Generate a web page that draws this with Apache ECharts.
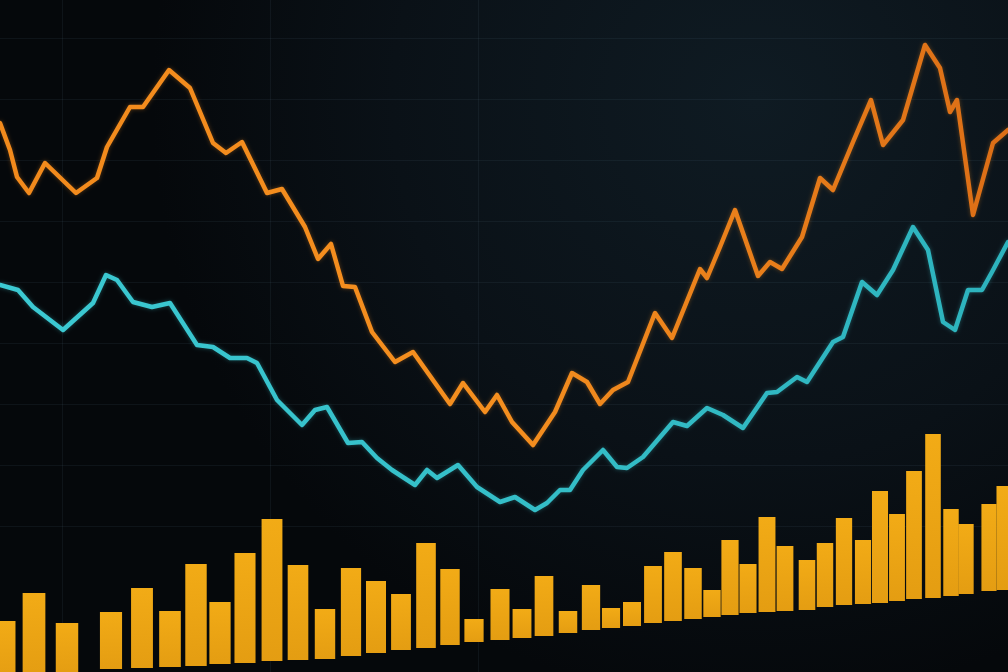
<!DOCTYPE html>
<html>
<head>
<meta charset="utf-8">
<script src="https://cdn.jsdelivr.net/npm/echarts@6/dist/echarts.min.js"></script>
<style>
html,body{margin:0;padding:0;background:#070b0f;}
#chart{width:1008px;height:672px;}
</style>
</head>
<body>
<div id="chart"></div>
<script>
// Orange series (x position, value)
const orangeX = [0,10,17,29,45,76,97,107,130,143,169,190,213,226,242,267,282,305,318,331,343,355,372,395,413,450,463,485,497,512,533,555,572,587,600,613,628,655,672,700,707,720,735,758,770,782,802,820,833,853,871,883,903,925,940,950,957,973,993,1008];
const orangeY = [549,522,495,479,509,479,494,525,565,565,602,584,529,519,530,479,483,445,413,428,386,385,340,310,320,268,289,260,277,250,227,260,299,290,268,282,290,359,334,403,394,425,462,396,410,403,435,494,482,530,572,527,552,627,604,560,572,457,529,542];

// Cyan series
const cyanX = [0,18,33,63,93,106,117,133,152,170,197,213,230,247,257,277,302,315,327,348,362,377,392,415,427,437,458,477,500,515,535,547,560,570,583,603,617,627,643,655,673,687,707,723,743,767,777,797,807,833,843,862,877,893,913,928,943,955,968,982,992,1008];
const cyanY = [387,382,365,342,369,397,392,370,365,369,327,325,314,314,309,272,247,262,265,229,230,214,202,187,202,194,207,185,170,175,162,169,182,182,202,222,205,204,215,229,250,246,264,257,244,279,280,295,290,330,335,390,377,402,445,422,350,342,382,382,400,430];

// Volume bars: position, base value, top value
const barX    = [4,34,67,111,142,170,196,220,245,272,298,325,351,376,401,426,450,474,500,522,544,568,591,611,632,653,673,693,712,730,748,767,785,807,825,844,863,880,897,914,933,951,966,989,1004];
const barBase = [-8,-4,-2,3,4,5,6,8,9,11,12,13,16,19,22,24,27,30,32,34,36,39,42,44,46,49,51,53,55,57,59,60,61,62,65,67,68,69,71,73,74,76,78,81,82];
const barTop  = [51,79,49,60,84,61,108,70,119,153,107,63,104,91,78,129,103,53,83,63,96,61,87,64,70,106,120,104,82,132,108,155,126,112,129,154,132,181,158,201,238,163,148,168,186];

const chart = echarts.init(document.getElementById('chart'), null, {renderer:'canvas'});

const gridLine = {show:true, lineStyle:{color:'rgba(120,150,170,0.085)', width:1}};

const option = {
  animation:false,
  backgroundColor:{
    type:'radial', x:0.75, y:0.15, r:0.9,
    colorStops:[{offset:0,color:'#0f1b23'},{offset:0.6,color:'#0a1117'},{offset:1,color:'#05080b'}]
  },
  grid:[
    {left:0,right:0,top:0,bottom:0},
    {left:0,right:0,top:38,bottom:146},
    {left:62,right:530,top:0,bottom:0}
  ],
  xAxis:[
    {gridIndex:0,type:'value',min:0,max:1008,show:false},
    {gridIndex:1,type:'value',min:0,max:1,show:false},
    {gridIndex:2,type:'value',min:0,max:416,interval:208,axisLine:{show:false},axisTick:{show:false},axisLabel:{show:false},splitLine:gridLine}
  ],
  yAxis:[
    {gridIndex:0,type:'value',min:0,max:672,show:false},
    {gridIndex:1,type:'value',min:0,max:488,interval:61,axisLine:{show:false},axisTick:{show:false},axisLabel:{show:false},splitLine:gridLine},
    {gridIndex:2,type:'value',min:0,max:1,show:false}
  ],
  series:[
    {
      type:'custom',
      xAxisIndex:0,yAxisIndex:0,
      clip:false,
      data: barX.map((x,i)=>[x, barBase[i], barTop[i]]),
      encode:{x:0,y:[1,2]},
      renderItem:function(params, api){
        const x = api.value(0), b = api.value(1), t = api.value(2);
        const p0 = api.coord([x,b]);
        const p1 = api.coord([x,t]);
        const w = 23 - 8*(p0[0]/1008);
        return {
          type:'rect',
          shape:{x:p0[0]-w/2, y:p1[1], width:w, height:p0[1]-p1[1]},
          style:{fill:{type:'linear',x:0,y:0,x2:0,y2:1,colorStops:[{offset:0,color:'#f2ab16'},{offset:1,color:'#e49d12'}]}}
        };
      },
      z:3
    },
    {
      type:'line',
      xAxisIndex:0,yAxisIndex:0,
      clip:false,
      showSymbol:false,
      data: cyanX.map((x,i)=>[x, cyanY[i]]),
      lineStyle:{width:4.5,cap:'round',join:'round',
        color:{type:'linear',x:0,y:0,x2:1,y2:0,colorStops:[{offset:0,color:'#3ccad3'},{offset:1,color:'#2db3bd'}]},
        shadowColor:'rgba(60,200,210,0.35)',shadowBlur:4},
      z:4
    },
    {
      type:'line',
      xAxisIndex:0,yAxisIndex:0,
      clip:false,
      showSymbol:false,
      data: orangeX.map((x,i)=>[x, orangeY[i]]),
      lineStyle:{width:4.5,cap:'round',join:'round',
        color:{type:'linear',x:0,y:0,x2:1,y2:0,colorStops:[{offset:0,color:'#f28a1c'},{offset:0.5,color:'#f58f1f'},{offset:1,color:'#dc6e16'}]},
        shadowColor:'rgba(245,140,30,0.35)',shadowBlur:4},
      z:5
    }
  ]
};
chart.setOption(option);
</script>
</body>
</html>
